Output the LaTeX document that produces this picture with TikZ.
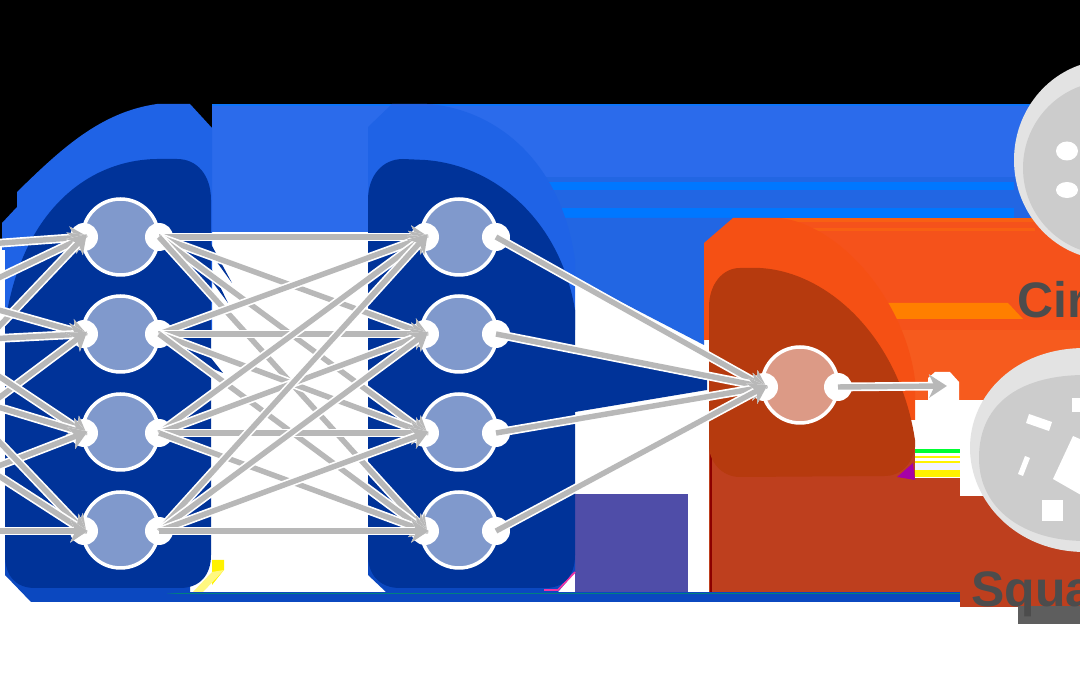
\documentclass[tikz,border=0pt]{standalone}
\usepackage{xcolor}
\usepackage{fontspec}
\setmainfont{Liberation Sans}
\usetikzlibrary{arrows.meta, positioning}
\definecolor{bandblue}{HTML}{2B6BEB}
\definecolor{bandlow}{HTML}{2266E3}
\definecolor{brightblue}{HTML}{0077FF}
\definecolor{lightblue}{HTML}{1F63E6}
\definecolor{dkblue}{HTML}{003399}
\definecolor{edgeblue}{HTML}{0B48C0}
\definecolor{cellblue}{HTML}{8099CC}
\definecolor{orangeband}{HTML}{F5521B}
\definecolor{orangelow}{HTML}{F65B1E}
\definecolor{brightorange}{HTML}{FF7F00}
\definecolor{lightorange}{HTML}{F55014}
\definecolor{dkorange}{HTML}{B63A0E}
\definecolor{cellorange}{HTML}{DC9A86}
\definecolor{brick}{HTML}{BE3F1E}
\definecolor{purpleblock}{HTML}{4F4DA8}
\definecolor{discout}{HTML}{E3E3E3}
\definecolor{discin}{HTML}{CCCCCC}
\definecolor{conngray}{HTML}{B8B8B8}
\definecolor{labelgray}{HTML}{4C4C4C}
\tikzset{
    neuron/.style={
        circle, draw=white, fill=cellblue, line width=2pt,
        minimum size=1.52cm, inner sep=0pt,
    },
    outneuron/.style={
        neuron, fill=cellorange,
    },
    port/.style={
        circle, fill=white, minimum size=0.56cm, inner sep=0pt,
    },
    conn/.style={
        preaction={draw=white, line width=5pt},
        -{Stealth[length=10pt, width=13pt, inset=3pt]},
        draw=conngray, line width=3.1pt, shorten >=-2.2pt,
    },
    classlabel/.style={
        anchor=base west, inner sep=0pt, text=labelgray,
        font=\fontsize{28.4pt}{30pt}\selectfont\bfseries,
    },
}
\begin{document}
\begin{tikzpicture}[x=0.02cm, y=-0.02cm]
\useasboundingbox (0,0) rectangle (1080,675);
\clip (0,0) rectangle (1080,675);

% ═══ BACKGROUND BANDS ═══
\fill[white] (0,0) rectangle (1080,675);
\fill[black] (0,0) rectangle (1080,104);
\fill[black] (0,104) rectangle (212,240);
\fill[bandblue] (212,104) rectangle (1080,218);
\fill[bandblue] (212,218) rectangle (368,232);
\fill[brightblue!70!bandblue] (212,104) rectangle (1080,106);
\fill[bandlow] (500,177) rectangle (1080,218);
\fill[brightblue] (500,182) rectangle (1014,190);
\fill[brightblue] (500,208) rectangle (1014,218);
\fill[bandlow] (500,218) -- (790,218) -- (790,260) -- (704,260) -- (704,345) -- (575,278) -- (500,240) -- cycle;
\fill[dkblue] (575,353) -- (707,380) -- (707,390) -- (575,412) -- cycle;
\fill[purpleblock] (575,494) rectangle (688,592);

% orange band and brick block
\fill[orangeband] (780,218) rectangle (1080,330);
\fill[orangelow] (780,330) rectangle (1080,400);
\fill[orangeband!70!brightorange] (780,218) rectangle (1045,222);
\fill[orangeband!70!brightorange] (780,228) rectangle (1035,231);
\fill[brightorange] (880,303) -- (1008,303) -- (1023,319) -- (880,319) -- cycle;
\fill[brick] (709,448) rectangle (960,592);
\fill[white] (915,400) rectangle (960,478);
\fill[green!80!cyan] (915,449) rectangle (960,453);
\fill[yellow] (915,456) rectangle (960,458);
\fill[yellow] (915,461) rectangle (960,463);
\fill[blue!5] (915,463) rectangle (960,470);
\fill[yellow] (915,470) rectangle (960,477);
\fill[brick] (960,496) rectangle (1080,607);
\fill[red!55!black] (710,445) rectangle (712,592);
\fill[white] (928,378) -- (935,372) -- (950,372) -- (959,382) -- (959,400) -- (928,400) -- cycle;

% bottom strip
\fill[edgeblue] (31,592) rectangle (960,602);
\fill[teal] (31,593) rectangle (960,594);
\fill[edgeblue] (5,555) -- (5,575) -- (31,602) -- (60,602) -- (190,592) -- (190,580) -- cycle;
\fill[edgeblue] (368,555) -- (368,575) -- (386,592) -- (558,592) -- (558,580) -- cycle;
\fill[edgeblue] (575,555) -- (575,572) -- (558,592) -- (530,592) -- cycle;
\draw[magenta!80, line width=1pt] (575,572) -- (558,590) -- (544,590);
\fill[yellow] (212,560) -- (224,560) -- (224,570) -- (212,585) -- cycle;
\fill[yellow!50] (224,570) -- (203,592) -- (193,592) -- (212,572) -- cycle;

% ═══ LEFT BLOB ═══
\fill[lightblue] (212,128) -- (190,104) -- (157,104)
    .. controls (100,112) and (60,150) .. (17,192) -- (17,207) -- (2,223)
    -- (2,250) -- (5,250) -- (5,330) -- (212,330) -- cycle;
\fill[dkblue] (211,200) .. controls (211,175) and (197,159) .. (177,159) -- (157,159)
    .. controls (85,160) and (20,215) .. (5,325) -- (5,555)
    .. controls (5,575) and (15,588) .. (35,588) -- (180,588)
    .. controls (200,588) and (211,575) .. (211,555) -- cycle;

% ═══ MIDDLE BLOB ═══
\fill[lightblue] (368,127) -- (392,104) -- (427,104)
    .. controls (490,108) and (560,155) .. (575,260) -- (575,330) -- (368,330) -- cycle;
\fill[dkblue] (368,200) .. controls (368,175) and (383,159) .. (403,159) -- (425,160)
    .. controls (495,165) and (560,220) .. (575,310) -- (575,555)
    .. controls (575,575) and (565,588) .. (545,588) -- (400,588)
    .. controls (380,588) and (368,575) .. (368,555) -- cycle;

% ═══ OUTPUT BLOB ═══
\fill[lightorange] (704,340) -- (704,243) -- (733,218) -- (780,218)
    .. controls (840,225) and (905,300) .. (915,380) -- (915,420) -- (709,420) -- (709,340) -- cycle;
\fill[dkorange] (709,307) .. controls (709,285) and (722,268) .. (740,268) -- (760,268)
    .. controls (830,272) and (900,340) .. (915,440) -- (915,447)
    .. controls (912,465) and (900,476) .. (885,476) -- (740,477)
    .. controls (722,477) and (709,462) .. (709,445) -- cycle;
\fill[violet!70!magenta] (897,477) -- (913,463) -- (915,480) -- cycle;

% ═══ CLASS DISCS ═══
\fill[discout] (1110,160) ellipse [x radius=96, y radius=100];
\fill[discin] (1110,168) ellipse [x radius=87, y radius=87];
\fill[white] (1067,151) ellipse [x radius=11, y radius=9.5];
\fill[white] (1067,190) ellipse [x radius=11, y radius=8];
\fill[discout] (970,448) .. controls (970,395) and (1015,348) .. (1085,348) -- (1085,552)
    .. controls (1015,552) and (970,500) .. (970,448) -- cycle;
\fill[discin] (979,458) .. controls (979,400) and (1025,375) .. (1085,375) -- (1085,541)
    .. controls (1025,541) and (979,510) .. (979,458) -- cycle;
\fill[white] (1026,423) -- (1029,414) -- (1052,422) -- (1049,431) -- cycle;
\fill[white] (1018,474) -- (1025,456) -- (1030,458) -- (1023,476) -- cycle;
\fill[white] (1053,479) -- (1073,436) -- (1100,448) -- (1081,495) -- cycle;
\fill[white] (1042,500) rectangle (1063,521);
\fill[white] (1072,398) rectangle (1085,412);

% dark slivers between the lines
\fill[dkblue] (211,244) -- (232,283) -- (211,254) -- cycle;
\fill[dkblue] (211,268) -- (228,303) -- (211,280) -- cycle;
\fill[dkblue] (211,358) -- (223,373) -- (211,368) -- cycle;

% ═══ NEURONS ═══
\node[neuron] (a1) at (120.5,237) {};
\node[neuron] (a2) at (120.5,334) {};
\node[neuron] (a3) at (120.5,432) {};
\node[neuron] (a4) at (120.5,530) {};
\node[neuron] (b1) at (459,237) {};
\node[neuron] (b2) at (459,334) {};
\node[neuron] (b3) at (459,432) {};
\node[neuron] (b4) at (459,530) {};
\node[outneuron] (c1) at (800,385) {};

% ports
\node[port] (a1l) at (84,237) {};
\node[port] (a2l) at (84,334) {};
\node[port] (a3l) at (84,433) {};
\node[port] (a4l) at (84,531) {};
\node[port] (a1r) at (159,237) {};
\node[port] (a2r) at (159,334) {};
\node[port] (a3r) at (159,433) {};
\node[port] (a4r) at (159,531) {};
\node[port] (b1l) at (425,237) {};
\node[port] (b2l) at (425,334) {};
\node[port] (b3l) at (425,433) {};
\node[port] (b4l) at (425,531) {};
\node[port] (b1r) at (496,237) {};
\node[port] (b2r) at (496,334) {};
\node[port] (b3r) at (496,433) {};
\node[port] (b4r) at (496,531) {};
\node[port] (c1l) at (764,387) {};
\node[port] (c1r) at (838,387) {};

% free ends
\coordinate (in1a) at (-12,244);
\coordinate (in1b) at (-12,283);
\coordinate (in1c) at (-12,338);
\coordinate (in2a) at (-12,307);
\coordinate (in2b) at (-12,339);
\coordinate (in2c) at (-12,406);
\coordinate (in3a) at (-12,369);
\coordinate (in3b) at (-12,404);
\coordinate (in3c) at (-12,470);
\coordinate (in4a) at (-12,430);
\coordinate (in4b) at (-12,469);
\coordinate (in4c) at (-12,531);
\coordinate (outtip) at (943,386);

% ═══ CONNECTORS ═══
\draw[conn] (in1a) -- (a1l.center);
\draw[conn] (in1b) -- (a1l.center);
\draw[conn] (in1c) -- (a1l.center);
\draw[conn] (in2a) -- (a2l.center);
\draw[conn] (in2b) -- (a2l.center);
\draw[conn] (in2c) -- (a2l.center);
\draw[conn] (in3a) -- (a3l.center);
\draw[conn] (in3b) -- (a3l.center);
\draw[conn] (in3c) -- (a3l.center);
\draw[conn] (in4a) -- (a4l.center);
\draw[conn] (in4b) -- (a4l.center);
\draw[conn] (in4c) -- (a4l.center);

\draw[conn] (a1r.center) -- (b1l.center);
\draw[conn] (a1r.center) -- (b2l.center);
\draw[conn] (a1r.center) -- (b3l.center);
\draw[conn] (a1r.center) -- (b4l.center);
\draw[conn] (a2r.center) -- (b1l.center);
\draw[conn] (a2r.center) -- (b2l.center);
\draw[conn] (a2r.center) -- (b3l.center);
\draw[conn] (a2r.center) -- (b4l.center);
\draw[conn] (a3r.center) -- (b1l.center);
\draw[conn] (a3r.center) -- (b2l.center);
\draw[conn] (a3r.center) -- (b3l.center);
\draw[conn] (a3r.center) -- (b4l.center);
\draw[conn] (a4r.center) -- (b1l.center);
\draw[conn] (a4r.center) -- (b2l.center);
\draw[conn] (a4r.center) -- (b3l.center);
\draw[conn] (a4r.center) -- (b4l.center);

\draw[conn] (b1r.center) -- (c1l.center);
\draw[conn] (b2r.center) -- (c1l.center);
\draw[conn] (b3r.center) -- (c1l.center);
\draw[conn] (b4r.center) -- (c1l.center);
\draw[conn] (c1r.center) -- (outtip);

% ═══ CLASS LABELS ═══
\fill[labelgray!90!white] (1018,606) rectangle (1080,624);
\node[classlabel] (circlelabel) at (1017,318) {Circle};
\node[classlabel] (squarelabel) at (971,607) {Square};

\end{tikzpicture}
\end{document}
